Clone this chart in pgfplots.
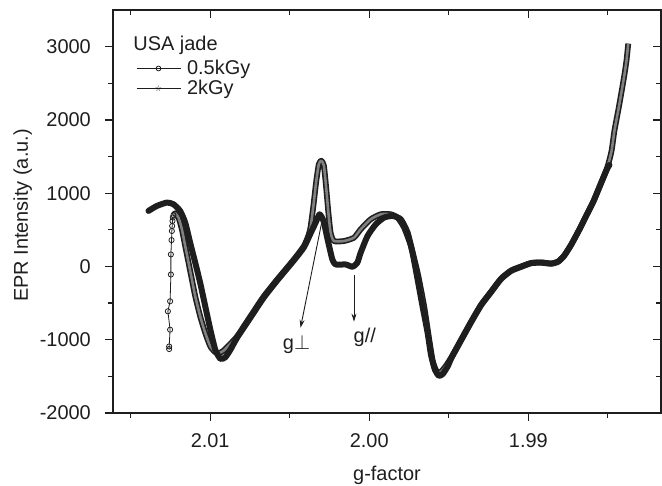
\documentclass[border=0pt]{standalone}
\usepackage{fontspec}
\setmainfont{Liberation Sans}
\newfontfamily\dejavu{DejaVu Sans}
\usepackage{pgfplots}
\usepackage{pgfplotstable}
\pgfplotsset{compat=1.18}
\usetikzlibrary{arrows.meta,plotmarks}
\definecolor{ink}{HTML}{1E1E1E}
\newcommand\fsz{\fontsize{20}{24}\selectfont}

% 0.5 kGy: initial vertical run of points
\pgfplotstableread{
g v
2.01258 -1127
2.01258 -1092
2.01252 -863
2.01266 -612
2.01252 -475
2.01247 -110
2.01247 164
2.01243 360
2.01241 484
2.01239 552
2.01237 621
2.01235 667
2.01231 699
}\chain

% 0.5 kGy: main spectrum
\pgfplotstableread{
g v
2.01231 699
2.01220 726
2.01199 667
2.01178 507
2.01157 278
2.01136 51
2.01115 -178
2.01094 -407
2.01063 -680
2.01031 -908
2.00999 -1092
2.00968 -1170
2.00947 -1185
2.00916 -1150
2.00873 -1055
2.00831 -955
2.00747 -680
2.00663 -407
2.00579 -178
2.00474 96
2.00411 278
2.00382 425
2.00369 534
2.00350 849
2.00334 1151
2.00317 1397
2.00301 1443
2.00285 1374
2.00270 1055
2.00257 735
2.00243 461
2.00222 347
2.00159 347
2.00096 393
2.00054 507
1.99991 644
1.99928 712
1.99865 712
1.99822 667
1.99781 530
1.99738 278
1.99696 -86
1.99655 -544
1.99623 -1000
1.99600 -1301
1.99575 -1438
1.99549 -1438
1.99518 -1356
1.99486 -1247
1.99423 -1000
1.99360 -753
1.99297 -521
1.99234 -342
1.99171 -164
1.99108 -55
1.99045 0
1.98982 48
1.98919 55
1.98856 41
1.98812 68
1.98774 151
1.98730 301
1.98679 507
1.98635 699
1.98591 890
1.98541 1151
1.98503 1356
1.98477 1575
1.98459 1849
1.98433 2151
1.98414 2384
1.98395 2630
1.98383 2808
1.98372 3041
}\circband

% 2 kGy
\pgfplotstableread{
g v
2.01388 758
2.01335 826
2.01272 872
2.01231 849
2.01189 758
2.01157 599
2.01126 325
2.01094 51
2.01063 -223
2.01031 -544
2.00999 -863
2.00968 -1137
2.00936 -1260
2.00905 -1240
2.00873 -1137
2.00831 -973
2.00747 -699
2.00663 -425
2.00579 -192
2.00474 82
2.00411 260
2.00369 452
2.00337 599
2.00312 712
2.00287 616
2.00262 370
2.00232 96
2.00211 27
2.00148 27
2.00106 -4
2.00075 51
2.00054 188
2.00011 415
1.99959 575
1.99907 667
1.99854 689
1.99802 644
1.99759 461
1.99728 188
1.99696 -178
1.99665 -544
1.99633 -908
1.99612 -1205
1.99587 -1411
1.99562 -1493
1.99537 -1466
1.99505 -1356
1.99486 -1260
1.99423 -1010
1.99360 -763
1.99297 -530
1.99234 -350
1.99171 -170
1.99108 -60
1.99045 -5
1.98982 45
1.98919 52
1.98856 38
1.98812 66
1.98774 148
1.98730 298
1.98679 504
1.98635 696
1.98591 885
1.98541 1145
1.98503 1340
1.98490 1384
}\star

\pgfplotsset{
  common/.style={
    scale only axis, width=548bp, height=403bp,
    x dir=reverse, xmin=1.98166, xmax=2.01611,
    ymin=-2000, ymax=3500,
    xtick={1.99,2.00,2.01}, minor xtick={1.985,1.995,2.005,2.015},
    ytick={-2000,-1000,0,1000,2000,3000}, minor ytick={-1500,-500,500,1500,2500},
    major tick length=8bp, minor tick length=5bp,
    axis line style={line width=1.2bp, ink},
    every tick/.style={line width=1.2bp, ink},
    every minor tick/.style={line width=1.2bp, ink},
    tick label style={font=\fsz, text=ink},
    label style={font=\fsz, text=ink},
  }
}

\begin{document}
\begin{tikzpicture}
\begin{axis}[common, name=ax,
  tick align=outside, xtick pos=left, ytick pos=left,
  xticklabels={1.99,2.00,2.01},
  yticklabels={-2000,-1000,0,1000,2000,3000},
  xticklabel style={anchor=base, yshift=-26bp},
  yticklabel style={anchor=east, inner sep=0pt, xshift=-14bp},
  xlabel={g-factor}, ylabel={EPR Intensity (a.u.)},
  xlabel style={at={(axis description cs:0.5,-0.1663)}, anchor=base},
  ylabel style={at={(axis description cs:-0.1551,0.49)}, anchor=base},
  legend style={draw=none, fill=none, font=\fsz, text=ink,
    at={(axis description cs:0.036,0.885)}, anchor=north west,
    row sep=0bp, cells={anchor=west},
    /tikz/every odd column/.append style={column sep=4bp}},
  legend image code/.code={
    \draw[mark repeat=2, mark phase=2, #1] plot coordinates {(0bp,0bp) (22bp,0bp) (44bp,0bp)};
  },
]
\addplot[forget plot, ink, line width=1.6bp, double=black!50, double distance=2.6bp, smooth, tension=0.35, line join=round] table {\circband};
\addplot[forget plot, ink, line width=0.8bp, mark=o, mark size=2.6bp, mark options={line width=0.8bp, fill=white}] table {\chain};
\addplot[forget plot, ink, line width=6bp, smooth, tension=0.35, line join=round, line cap=round] table {\star};

\addlegendimage{ink, line width=1.2bp, mark=o, mark size=2.4bp, mark options={fill=white, line width=0.8bp}}
\addlegendentry{0.5kGy}
\addlegendimage{ink, line width=1.2bp, mark=text, text mark={{\dejavu\fontsize{8}{8}\selectfont ☆}}}
\addlegendentry{2kGy}

\node[anchor=base west, font=\fsz, text=ink, inner sep=0pt] at (axis description cs:0.037,0.9007) {USA jade};

\draw[-{Stealth[length=8bp,width=5bp]}, line width=0.9bp, ink] (axis cs:2.00295,644) -- (axis cs:2.00432,-836);
\draw[-{Stealth[length=8bp,width=5bp]}, line width=0.9bp, ink] (axis cs:2.00096,-110) -- (axis cs:2.00096,-753);
\node[font=\fsz, text=ink, anchor=base] at (axis cs:2.00457,-1140) {g$\perp$};
\node[font=\fsz, text=ink, anchor=base] at (axis cs:2.00028,-1040) {g//};
\end{axis}
\begin{axis}[common,
  tick align=inside, xtick pos=right, ytick pos=right,
  xticklabels={,,}, yticklabels={,,,,,},
]
\end{axis}
\pgfresetboundingbox
\path[use as bounding box] ([xshift=-113bp,yshift=-73bp]ax.south west) rectangle ([xshift=1bp,yshift=10bp]ax.north east);
\end{tikzpicture}
\end{document}
